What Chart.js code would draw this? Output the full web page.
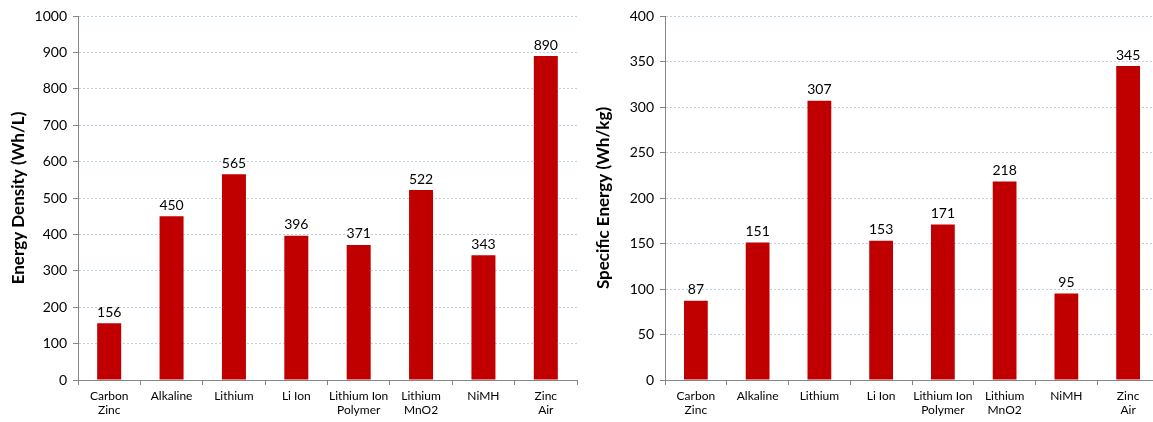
<!DOCTYPE html>
<html>
<head>
<meta charset="utf-8">
<script src="https://cdn.jsdelivr.net/npm/chart.js@4"></script>
<style>
  html, body { margin: 0; padding: 0; background: #fff; overflow: hidden; width: 1153px; height: 422px; }
  .box { position: absolute; top: 0; }
</style>
</head>
<body>
<div class="box" style="left:0px"><canvas id="densidad" width="585" height="422"></canvas></div>
<div class="box" style="left:585px"><canvas id="especifica" width="582" height="422"></canvas></div>
<script>
const baterias = [["Carbon", "Zinc"], "Alkaline", "Lithium", "Li Ion", ["Lithium Ion", "Polymer"], ["Lithium", "MnO2"], "NiMH", ["Zinc", "Air"]];
const densidad = [156, 450, 565, 396, 371, 522, 343, 890];
const especifica = [87, 151, 307, 153, 171, 218, 95, 345];

const fuente = "Lato, 'Open Sans', sans-serif";

// numeros encima de cada barra
const etiquetas = {
  id: "etiquetas",
  afterDatasetsDraw(chart) {
    const ctx = chart.ctx;
    const meta = chart.getDatasetMeta(0);
    ctx.save();
    ctx.fillStyle = "#000";
    ctx.font = "14px " + fuente;
    ctx.textAlign = "center";
    ctx.textBaseline = "bottom";
    meta.data.forEach((bar, i) => {
      ctx.fillText(chart.data.datasets[0].data[i], bar.x, bar.y - 4);
    });
    ctx.restore();
  }
};

function grafico(id, valores, titulo, max, paso, anchoEje) {
  return new Chart(document.getElementById(id), {
    type: "bar",
    data: {
      labels: baterias,
      datasets: [{
        data: valores,
        backgroundColor: "#c00000",
        barPercentage: 0.77,
        categoryPercentage: 0.5
      }]
    },
    options: {
      responsive: false,
      animation: false,
      layout: { padding: { top: 16, right: 8, left: 0, bottom: 0 } },
      plugins: { legend: { display: false }, tooltip: { enabled: false } },
      scales: {
        x: {
          grid: { offset: true, drawOnChartArea: false, tickLength: 5, color: "#868686" },
          border: { color: "#868686" },
          ticks: { color: "#000", font: { family: fuente, size: 12 }, padding: 4, maxRotation: 0, autoSkip: false },
          afterFit: s => { s.height = 42; }
        },
        y: {
          min: 0,
          max: max,
          ticks: { stepSize: paso, color: "#000", font: { family: fuente, size: 14 }, padding: 6, callback: v => String(v) },
          grid: { color: "#bcd0ea", tickColor: "#868686", tickLength: 5, tickBorderDash: [] },
          border: { color: "#868686", dash: [2, 2] },
          title: { display: true, text: titulo, color: "#000", font: { family: fuente, size: 17, weight: "bold" }, padding: { top: 8, bottom: 0 } },
          afterFit: s => { s.width = anchoEje; }
        }
      }
    },
    plugins: [etiquetas]
  });
}

grafico("densidad", densidad, "Energy Density (Wh/L)", 1000, 100, 78);
grafico("especifica", especifica, "Specific Energy (Wh/kg)", 400, 50, 80);
</script>
</body>
</html>
